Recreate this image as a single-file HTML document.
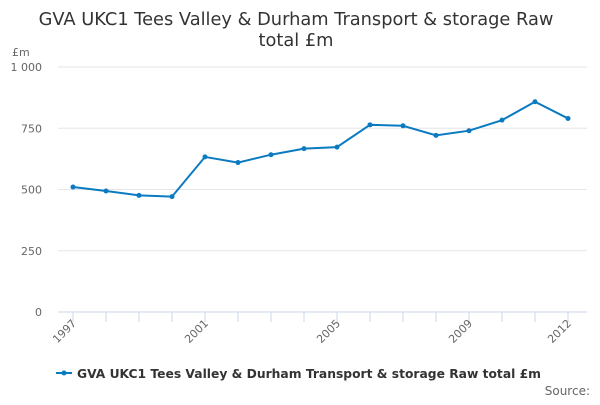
<!DOCTYPE html>
<html><head><meta charset="utf-8"><style>
body{margin:0;background:#fff;}
svg text{font-family:"DejaVu Sans","Liberation Sans",sans-serif;}
</style></head><body>
<svg id="chart" width="600" height="400">
<text x="296" y="25" text-anchor="middle" font-size="17.8" fill="#333">GVA UKC1 Tees Valley &amp; Durham Transport &amp; storage Raw</text>
<text x="296" y="46" text-anchor="middle" font-size="17.8" fill="#333">total £m</text>
<text x="12" y="56" font-size="11" fill="#666">£m</text>
<g id="grid"></g><g id="xaxis"></g><g id="series"></g>
<g>
<line x1="56" y1="373" x2="72" y2="373" stroke="#0a7bc1" stroke-width="2"/>
<circle cx="64" cy="373" r="2.5" fill="#0a7bc1"/>
<text x="77" y="378" font-size="12.3" font-weight="bold" fill="#333">GVA UKC1 Tees Valley &amp; Durham Transport &amp; storage Raw total £m</text>
</g>
<text x="590" y="395" text-anchor="end" font-size="12" fill="#666">Source:</text>
</svg>
<script>
const years=[1997,1998,1999,2000,2001,2002,2003,2004,2005,2006,2007,2008,2009,2010,2011,2012];
const values=[510,494,476,471,633,610,642,667,673,764,760,721,740,783,858,790];
const yTicks=[0,250,500,750,1000];
const yTickLabels=["0","250","500","750","1 000"];
const xLabels=[1997,2001,2005,2009,2012];
const NS="http://www.w3.org/2000/svg";
const x=v=>73+(v-1997)*(568-73)/15;
const y=v=>312-v*0.245;
function mk(t,a,p){const e=document.createElementNS(NS,t);for(const k in a)e.setAttribute(k,a[k]);p.appendChild(e);return e;}
const g=document.getElementById('grid');
yTicks.forEach((t,i)=>{
 const l=mk('line',{x1:58,x2:587,y1:y(t),y2:y(t),stroke:t===0?'#ccd6eb':'#e6e6e6'},g);
 
 
 const tx=mk('text',{x:42,y:y(t)+4,'text-anchor':'end','font-size':11,fill:'#666'},g);
 tx.textContent=yTickLabels[i];
 
 
});
const xa=document.getElementById('xaxis');
years.forEach(yr=>{
 const l=mk('line',{x1:x(yr),x2:x(yr),y1:312,y2:322,stroke:'#ccd6eb'},xa);
 
 
});
xLabels.forEach(yr=>{
 const tx=mk('text',{x:x(yr)+4,y:324,'text-anchor':'end','font-size':11,fill:'#666',transform:`rotate(-45 ${x(yr)+4} 324)`},xa);
 tx.textContent=yr;
 
 
});
const s=document.getElementById('series');
const p=mk('polyline',{points:years.map((yr,i)=>x(yr)+','+y(values[i])).join(' '),fill:'none',stroke:'#0a7bc1','stroke-width':2},s);


years.forEach((yr,i)=>{
 const c=mk('circle',{cx:x(yr),cy:y(values[i]),r:2.5,fill:'#0a7bc1'},s);
 
 
});
</script>
</body></html>
